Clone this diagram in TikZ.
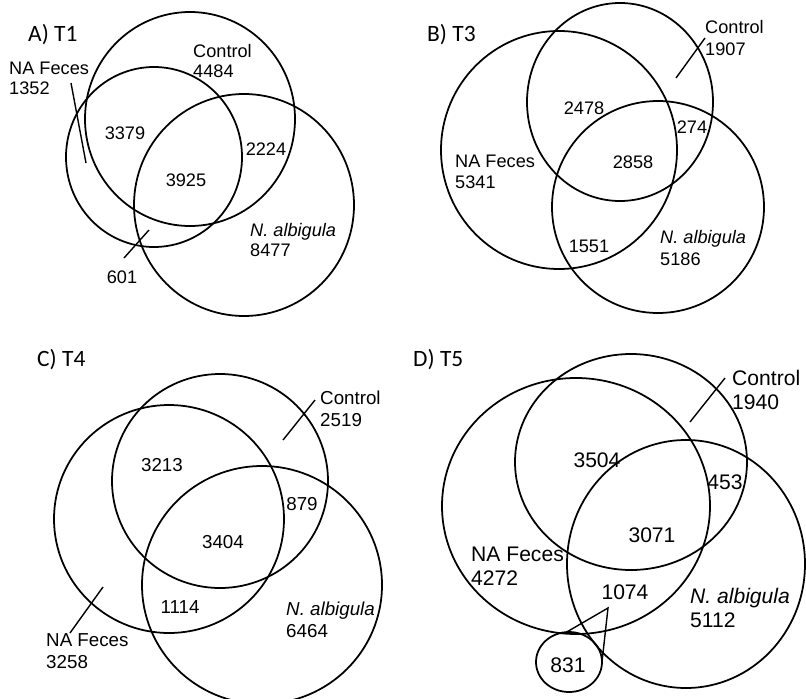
\documentclass[tikz,border=0pt]{standalone}
\usepackage{fontspec}
\setmainfont{Liberation Sans}
\newfontfamily\titlefont{Carlito}
\tikzset{
  venn/.style={line width=1.5pt},
  lead/.style={line width=1.2pt},
  num/.style={inner sep=0pt},
  setlbl/.style={inner sep=0pt, align=left, anchor=west},
  paneltitle/.style={inner sep=0pt, anchor=west, font=\titlefont\fontsize{20}{22}\selectfont},
}
\begin{document}
\begin{tikzpicture}[x=0.03cm, y=-0.03cm]
\useasboundingbox (0,0) rectangle (806,699);

% A) T1
\begin{scope}[font=\fontsize{15.5}{17}\selectfont]
  \draw[venn] (190,119) ellipse (105 and 107);
  \draw[venn] (154,157) ellipse (88 and 90);
  \draw[venn] (244,205) ellipse (110 and 111);
  \node[paneltitle] (tA) at (28,35) {A) T1};
  \node[setlbl] (feA) at (9,78) {NA Feces\\1352};
  \node[setlbl] (coA) at (193,61) {Control\\4484};
  \node[setlbl] (alA) at (250,240) {\textit{N. albigula}\\8477};
  \node[num] (aA1) at (125,133) {3379};
  \node[num] (aA2) at (266,149) {2224};
  \node[num] (aA3) at (186,180) {3925};
  \node[num] (aA4) at (122,277) {601};
  \coordinate (feAa) at (71,83);
  \coordinate (feAb) at (86,163);
  \coordinate (aA4a) at (124,258);
  \coordinate (aA4b) at (149,230);
  \draw[lead] (feAa) -- (feAb);
  \draw[lead] (aA4a) -- (aA4b);
\end{scope}

% B) T3
\begin{scope}[font=\fontsize{15.5}{18}\selectfont]
  \draw[venn] (620,102) ellipse (93 and 99);
  \draw[venn] (559,150) ellipse (118 and 119);
  \draw[venn] (658,207) ellipse (106 and 106);
  \node[paneltitle] (tB) at (427,35) {B) T3};
  \node[setlbl] (coB) at (705,38) {Control\\1907};
  \node[setlbl] (feB) at (455,172) {NA Feces\\5341};
  \node[setlbl] (alB) at (660,248) {\textit{N. albigula}\\5186};
  \node[num] (aB1) at (584,108) {2478};
  \node[num] (aB2) at (692,127) {274};
  \node[num] (aB3) at (633,162) {2858};
  \node[num] (aB4) at (589,246) {1551};
  \coordinate (coBa) at (705,38);
  \coordinate (coBb) at (676,78);
  \draw[lead] (coBa) -- (coBb);
\end{scope}

% C) T4
\begin{scope}[font=\fontsize{16}{19}\selectfont]
  \draw[venn] (220,481) ellipse (108 and 107);
  \draw[venn] (169,519) ellipse (115 and 114);
  \draw[venn] (262,585) ellipse (120 and 119);
  \node[paneltitle] (tC) at (37,360) {C) T4};
  \node[setlbl] (coC) at (320,409) {Control\\2519};
  \node[setlbl] (alC) at (286,620) {\textit{N. albigula}\\6464};
  \node[setlbl] (feC) at (46,651) {NA Feces\\3258};
  \node[num] (aC1) at (162,465) {3213};
  \node[num] (aC2) at (302,504) {879};
  \node[num] (aC3) at (223,542) {3404};
  \node[num] (aC4) at (180,607) {1114};
  \coordinate (coCa) at (315,400);
  \coordinate (coCb) at (283,440);
  \coordinate (feCa) at (70,633);
  \coordinate (feCb) at (103,587);
  \draw[lead] (coCa) -- (coCb);
  \draw[lead] (feCa) -- (feCb);
\end{scope}

% D) T5
\begin{scope}[font=\fontsize{18}{20.5}\selectfont]
  \draw[venn] (631,462) ellipse (116 and 108);
  \draw[venn] (576,506) ellipse (134 and 128);
  \draw[venn] (686,564) ellipse (119 and 124);
  \draw[venn] (569,662) ellipse (33 and 30);
  \node[paneltitle] (tD) at (413,360) {D) T5};
  \node[setlbl] (coD) at (732,390) {Control\\1940};
  \node[setlbl] (feD) at (471,566) {NA Feces\\4272};
  \node[setlbl] (alD) at (690,608) {\textit{N. albigula}\\5112};
  \node[num] (aD1) at (597,460) {3504};
  \node[num] (aD2) at (725,482) {453};
  \node[num] (aD3) at (652,535) {3071};
  \node[num] (aD4) at (625,592) {1074};
  \node[num] (aD5) at (568,665) {831};
  \coordinate (coDa) at (725,378);
  \coordinate (coDb) at (690,422);
  \coordinate (wdg1) at (565,633);
  \coordinate (wdg2) at (608,608);
  \coordinate (wdg3) at (602,662);
  \draw[lead] (coDa) -- (coDb);
  \draw[lead] (wdg1) -- (wdg2) -- (wdg3);
\end{scope}

\end{tikzpicture}
\end{document}
